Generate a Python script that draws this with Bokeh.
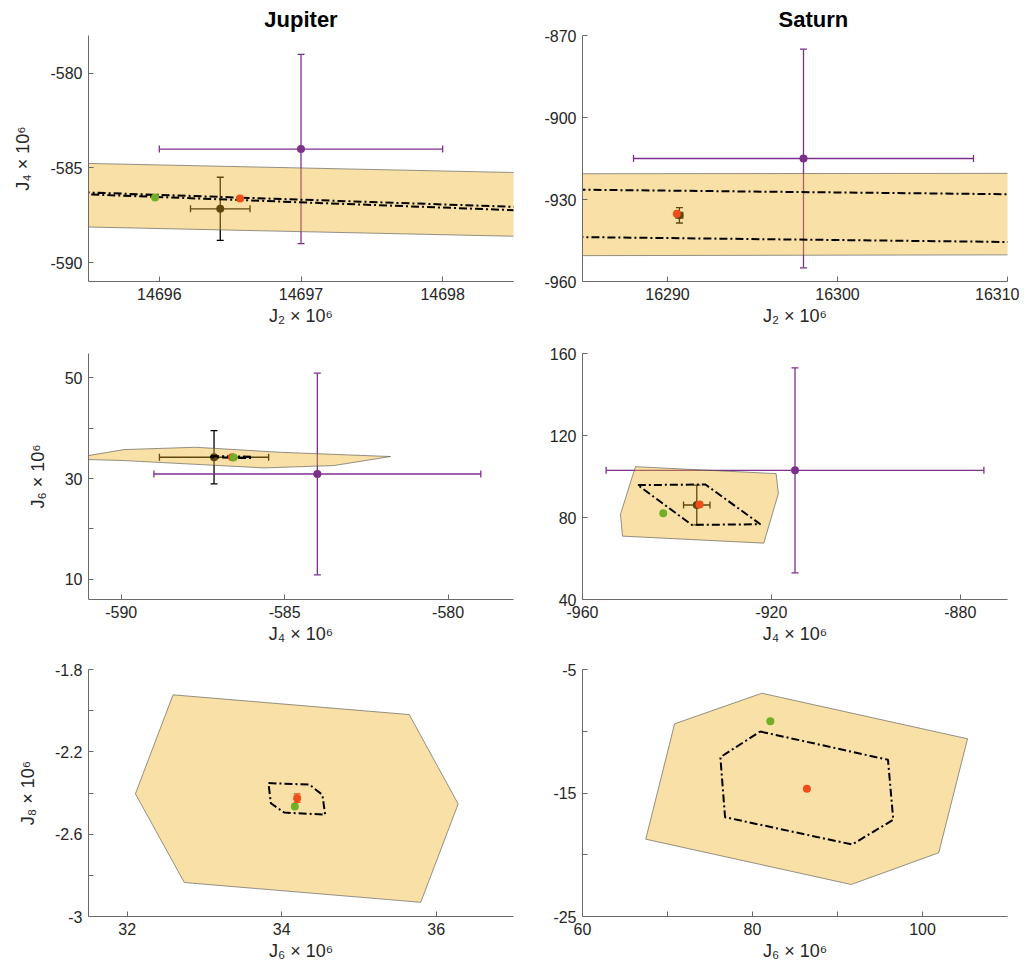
from bokeh.plotting import figure
from bokeh.layouts import column, row
from bokeh.models import (FixedTicker, CustomJSTickFormatter, Whisker, TeeHead,
                          ColumnDataSource, Range1d)
from bokeh.embed import file_html
from bokeh.resources import INLINE

FONT = "Liberation Sans"
BAND_COLOR = "#EDB120"
COLORS = ["#000000", "#7E2F8E", "#EF4E1B", "#72AE26"]   # black, purple, red, green
UNDER = [True, True, False, False]

# ---------------- point data: [black, purple, red, green] ----------------
jup_J2 = [14696.43, 14697.0, 14696.57, 14695.97]
jup_J2_err = [0.21, 1.0, 0.0, 0.0]
jup_J4 = [-587.16, -584.0, -586.61, -586.56]
jup_J4_err = [1.67, 5.0, 0.0, 0.0]
jup_J6 = [34.22, 30.9, 34.2, 34.17]
jup_J6_err = [5.3, 20.0, 0.0, 0.0]
jup_J8 = [None, None, -2.425, -2.465]
jup_J8_err = [0.0, 0.0, 0.021, 0.0]

sat_J2 = [16290.7, 16298.0, 16290.55, None]
sat_J2_err = [0.2, 10.0, 0.0, 0.0]
sat_J4 = [-935.8, -915.0, -935.2, -942.9]
sat_J4_err = [2.8, 40.0, 0.0, 0.0]
sat_J6 = [86.1, 103.0, 86.4, 82.1]
sat_J6_err = [9.7, 50.0, 0.0, 0.0]
sat_J8 = [None, None, -14.66, -9.19]
sat_J8_err = [0.0, 0.0, 0.0, 0.0]

# ---------------- envelopes (filled) and contours (dash-dot) ----------------
jA_band_x = [14695.0, 14699.0, 14699.0, 14695.0]
jA_band_y = [-584.68, -585.32, -588.69, -588.04]
jA_cont_x = [14695.0, 14699.0, 14699.0, 14695.0]
jA_cont_y = [-586.17, -587.18, -587.37, -586.26]

jC_band_x = [-592.0, -591.0, -589.92, -587.73, -585.12, -581.76, -583.49, -585.63, -589.92, -591.0, -592.0]
jC_band_y = [34.3, 34.55, 35.74, 36.2, 35.2, 34.36, 32.57, 32.1, 33.56, 33.76, 33.9]
jC_cont_x = [-587.25, -586.6, -586.0, -586.0, -586.6, -587.25]
jC_cont_y = [34.45, 34.4, 34.3, 34.05, 34.1, 34.2]

jE_band_x = [32.594, 35.651, 36.284, 35.80, 32.74, 32.107]
jE_band_y = [-1.923, -2.019, -2.453, -2.931, -2.835, -2.404]
jE_cont_x = [33.829, 34.359, 34.527, 34.562, 34.032, 33.86]
jE_cont_y = [-2.352, -2.359, -2.409, -2.505, -2.495, -2.450]

sB_band_x = [16280.0, 16315.0, 16315.0, 16280.0]
sB_band_y = [-920.6, -920.4, -950.2, -950.6]
sB_cont_x = [16280.0, 16315.0, 16315.0, 16280.0]
sB_cont_y = [-926.1, -928.4, -945.9, -943.4]

sD_band_x = [-948.78, -919.0, -918.52, -921.61, -951.53, -951.96]
sD_band_y = [104.8, 101.4, 91.7, 67.5, 70.9, 81.6]
sD_cont_x = [-948.28, -933.97, -922.33, -936.85]
sD_cont_y = [95.8, 96.1, 76.7, 76.4]

sF_band_x = [81.10, 105.30, 101.91, 91.61, 67.44, 70.83]
sF_band_y = [-6.92, -10.61, -19.84, -22.41, -18.74, -9.40]
sF_cont_x = [80.90, 95.94, 96.56, 91.72, 76.77, 76.22]
sF_cont_y = [-10.02, -12.31, -17.17, -19.17, -16.96, -12.10]

# ---------------- axes ----------------
LBL = {2: "J\u2082 \u00d7 10\u2076", 4: "J\u2084 \u00d7 10\u2076",
       6: "J\u2086 \u00d7 10\u2076", 8: "J\u2088 \u00d7 10\u2076"}


def make_fig(xr, yr, xt, yt, xm, ym, xlab, ylab, bl, br, bt, bb, fh,
             title=None, talign="center", toff=0):
    p = figure(frame_width=425, frame_height=fh, x_range=Range1d(*xr), y_range=Range1d(*yr),
               output_backend="svg", toolbar_location=None,
               min_border_left=bl, min_border_right=br, min_border_top=bt, min_border_bottom=bb)
    p.outline_line_color = None
    p.grid.visible = False
    p.background_fill_color = "white"
    p.border_fill_color = "white"
    p.xaxis.ticker = FixedTicker(ticks=xt, minor_ticks=xm)
    p.yaxis.ticker = FixedTicker(ticks=yt, minor_ticks=ym)
    fmt = "return Number(tick.toFixed(3)).toString();"
    for ax in (p.xaxis[0], p.yaxis[0]):
        ax.formatter = CustomJSTickFormatter(code=fmt)
        ax.axis_line_color = "#6a6a6a"
        ax.axis_line_width = 1
        ax.major_tick_in = 5
        ax.major_tick_out = 0
        ax.minor_tick_in = 5
        ax.minor_tick_out = 0
        ax.major_tick_line_color = "#6a6a6a"
        ax.minor_tick_line_color = "#6a6a6a"
        ax.major_label_text_font = FONT
        ax.major_label_text_font_size = "16px"
        ax.major_label_text_color = "#262626"
        ax.axis_label_text_font = FONT
        ax.axis_label_text_font_size = "18px"
        ax.axis_label_text_font_style = "normal"
        ax.axis_label_text_color = "#262626"
        ax.major_label_standoff = 6
    p.xaxis.axis_label = xlab
    p.xaxis.axis_label_standoff = 3
    if ylab:
        p.yaxis.axis_label = ylab
        p.yaxis.axis_label_standoff = 14
    if title:
        p.title.text = title
        p.title.align = talign
        p.title.text_font = FONT
        p.title.text_font_size = "22px"
        p.title.text_font_style = "bold"
        p.title.text_color = "#000000"
        p.title.standoff = 7
        p.title.offset = toff
    return p


def add_band(p, bx, by):
    p.patch(bx, by, fill_color=BAND_COLOR, fill_alpha=0.4, line_color="#4d4d4d",
            line_width=0.7, line_alpha=0.85)


def add_contour(p, cx, cy):
    p.line(cx + [cx[0]], cy + [cy[0]], line_color="black", line_width=2, line_dash="8 3 2 3")


def add_points(p, xs, xerr, ys, yerr, under):
    for i in range(4):
        if UNDER[i] != under:
            continue
        x, y = xs[i], ys[i]
        if x is None or y is None:
            continue
        c = COLORS[i]
        lvl = "underlay" if under else "glyph"
        ex, ey = xerr[i], yerr[i]
        src = ColumnDataSource(dict(x=[x], y=[y], xl=[x - ex], xu=[x + ex],
                                    yl=[y - ey], yu=[y + ey]))
        lw = 1.3
        if ey > 0:
            w = Whisker(source=src, base="x", lower="yl", upper="yu", dimension="height",
                        line_color=c, line_width=lw,
                        upper_head=TeeHead(size=7, line_color=c, line_width=lw),
                        lower_head=TeeHead(size=7, line_color=c, line_width=lw),
                        level=lvl)
            p.add_layout(w)
        if ex > 0:
            w = Whisker(source=src, base="y", lower="xl", upper="xu", dimension="width",
                        line_color=c, line_width=lw,
                        upper_head=TeeHead(size=7, line_color=c, line_width=lw),
                        lower_head=TeeHead(size=7, line_color=c, line_width=lw),
                        level=lvl)
            p.add_layout(w)
        r = p.scatter("x", "y", source=src, size=8, color=c, line_width=0)
        r.level = lvl


def panel(p, xs, xerr, ys, yerr, bx, by, cx, cy):
    add_points(p, xs, xerr, ys, yerr, True)
    add_band(p, bx, by)
    add_contour(p, cx, cy)
    add_points(p, xs, xerr, ys, yerr, False)


# Row 1
pA = make_fig((14695.5, 14698.5), (-591, -578), [14696, 14697, 14698], [-590, -585, -580], [], [],
              LBL[2], LBL[4], 88, 10, 35, 50, 246, "Jupiter")
panel(pA, jup_J2, jup_J2_err, jup_J4, jup_J4_err, jA_band_x, jA_band_y, jA_cont_x, jA_cont_y)
pB = make_fig((16285, 16310), (-960, -870), [16290, 16300, 16310], [-960, -930, -900, -870], [], [],
              LBL[2], None, 59, 12, 35, 50, 246, "Saturn", "left", 196)
panel(pB, sat_J2, sat_J2_err, sat_J4, sat_J4_err, sB_band_x, sB_band_y, sB_cont_x, sB_cont_y)

# Row 2
pC = make_fig((-591, -578), (6, 54.8), [-590, -585, -580], [10, 30, 50], [], [20, 40],
              LBL[4], LBL[6], 88, 10, 22, 50, 246)
panel(pC, jup_J4, jup_J4_err, jup_J6, jup_J6_err, jC_band_x, jC_band_y, jC_cont_x, jC_cont_y)
pD = make_fig((-960, -870), (40, 160), [-960, -920, -880], [40, 80, 120, 160], [], [],
              LBL[4], None, 59, 12, 22, 50, 246)
panel(pD, sat_J4, sat_J4_err, sat_J6, sat_J6_err, sD_band_x, sD_band_y, sD_cont_x, sD_cont_y)

# Row 3
pE = make_fig((31.5, 37), (-3, -1.8), [32, 34, 36], [-3, -2.6, -2.2, -1.8], [], [-2.8, -2.4, -2.0],
              LBL[6], LBL[8], 88, 10, 20, 46, 247)
panel(pE, jup_J6, jup_J6_err, jup_J8, jup_J8_err, jE_band_x, jE_band_y, jE_cont_x, jE_cont_y)
pF = make_fig((60, 110), (-25, -5), [60, 80, 100], [-25, -15, -5], [70, 90], [-20, -10],
              LBL[6], None, 59, 12, 20, 46, 247)
panel(pF, sat_J6, sat_J6_err, sat_J8, sat_J8_err, sF_band_x, sF_band_y, sF_cont_x, sF_cont_y)

layout = column(row(pA, pB), row(pC, pD), row(pE, pF))
open("out.html", "w").write(file_html(layout, INLINE))
